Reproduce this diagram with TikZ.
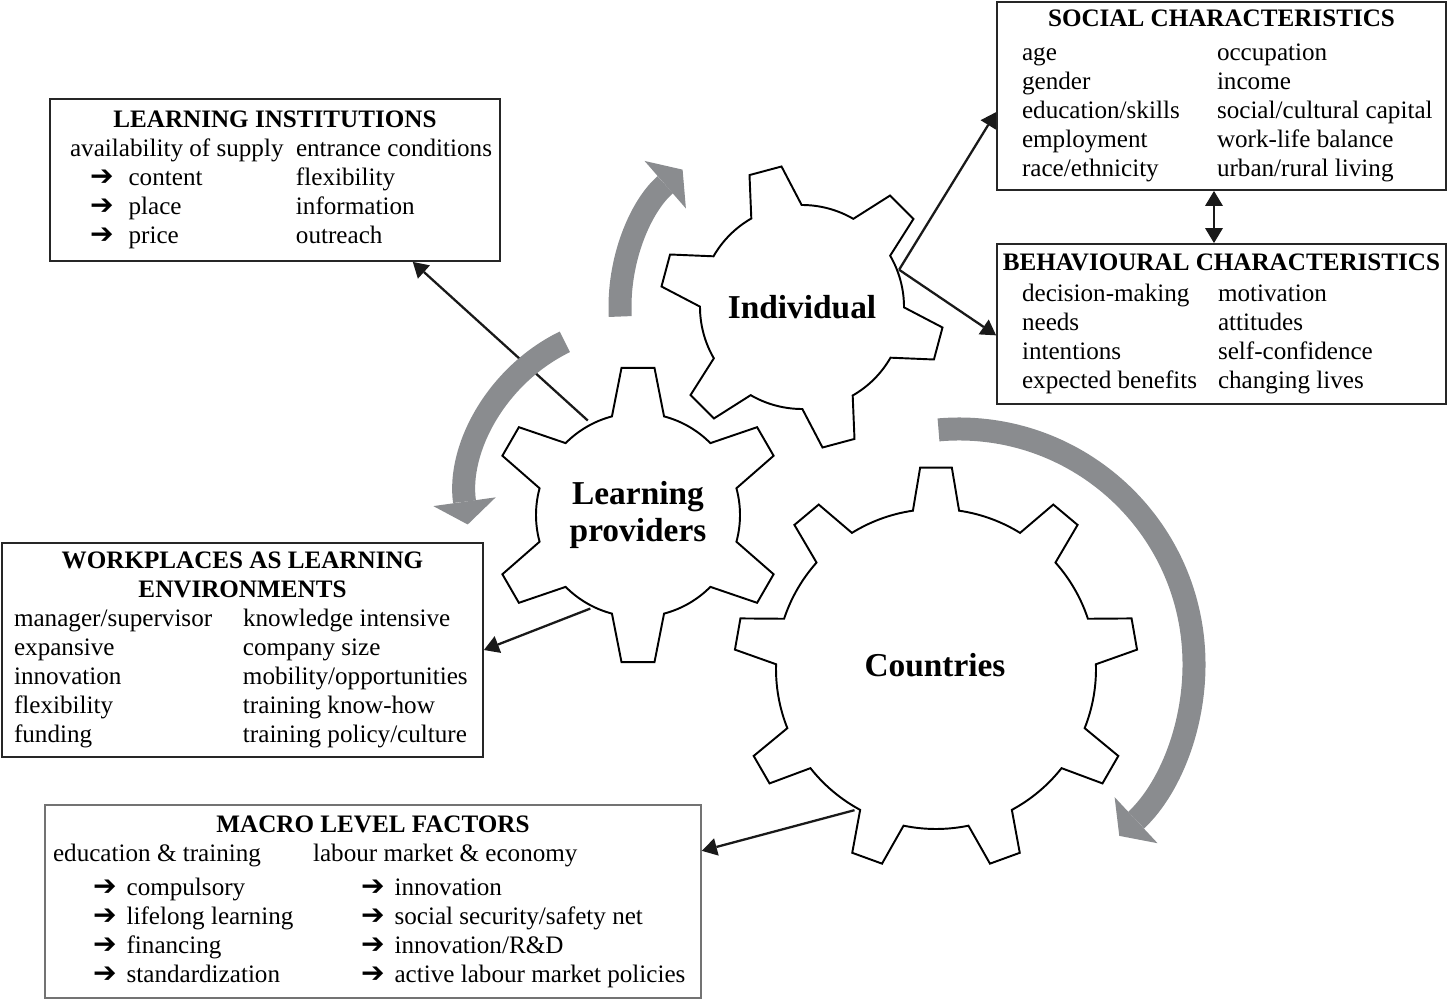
\documentclass[tikz,border=0pt]{standalone}
\usepackage{fontspec}
\setmainfont{Liberation Serif}
\newfontfamily\arrowfont{DejaVu Sans}
\usepackage{tikz}
\usetikzlibrary{arrows.meta, positioning, calc}
\usepackage{xcolor}
\definecolor{turnGray}{RGB}{138,140,143}
\newcommand{\arr}{{\arrowfont\bfseries\fontsize{16}{16}\selectfont\symbol{"2794}}}
\tikzset{
    >={Triangle[length=0.3cm, width=0.36cm, line width=0pt]},
    % Text
    txt/.style={font=\fontsize{14.3}{16.5}\selectfont},
    gearlbl/.style={font=\fontsize{19}{21.5}\selectfont\bfseries, align=center},
    % Shapes
    infobox/.style={rectangle, draw=black!85, line width=1.1pt, fill=white,
                    inner sep=0pt, align=center, txt},
    macrobox/.style={infobox, draw=black!55},
    gearline/.style={draw=black, line width=1.1pt, fill=white},
    % Flow
    link/.style={->, line width=1.3pt, black!90},
    rotArrow/.style={draw=turnGray, line width=0.46cm,
                     -{Triangle[length=0.46cm, width=1.26cm, line width=0pt]}},
    % teeth, body radius, tip radius, first angle, half base, half tip
    pics/gear/.style n args={6}{code={
        \draw[gearline] ({#4-#5}:#2)
          \foreach \k in {1,...,#1} {
            -- ({#4+(\k-1)*360/#1-#6}:#3)
            -- ({#4+(\k-1)*360/#1+#6}:#3)
            -- ({#4+(\k-1)*360/#1+#5}:#2)
            arc[start angle={#4+(\k-1)*360/#1+#5}, end angle={#4+\k*360/#1-#5}, radius=#2]
          } -- cycle;
    }}
}

\begin{document}
\begin{tikzpicture}[x=0.02cm, y=0.02cm]
\useasboundingbox (0,0) rectangle (1448,-1000);

% gears
\coordinate (indivC) at (802,-307);
\coordinate (lprovC) at (638,-515);
\coordinate (cntrC) at (936,-669);
\pic at (cntrC) {gear={9}{160}{202}{90}{8.3}{4.5}};
\pic at (lprovC) {gear={6}{102}{148}{90}{14.8}{6.4}};
\pic at (indivC) {gear={6}{102}{142}{-15}{14.8}{6.7}};
\node[gearlbl] (indiv) at (indivC) {Individual};
\node[gearlbl] (lprov) at (lprovC) {Learning\\providers};
\node[gearlbl] (cntr) at (935,-665) {Countries};

% boxes
\node[infobox, minimum width=9cm, minimum height=3.24cm] (linst) at (275,-180) {%
\begin{tabular}{@{\hspace{0.4cm}}p{4.52cm}@{}p{4.08cm}@{}}
\multicolumn{2}{@{}c@{}}{\textbf{LEARNING INSTITUTIONS}}\\
availability of supply & entrance conditions\\
\hspace*{0.4cm}\arr\hspace{0.3cm}content & flexibility\\
\hspace*{0.4cm}\arr\hspace{0.3cm}place & information\\
\hspace*{0.4cm}\arr\hspace{0.3cm}price & outreach
\end{tabular}};

\node[infobox, minimum width=8.98cm, minimum height=3.76cm] (social) at (1221.5,-96) {%
\begin{tabular}{@{\hspace{0.5cm}}p{3.9cm}@{}p{4.58cm}@{}}
\multicolumn{2}{@{}c@{}}{\textbf{SOCIAL CHARACTERISTICS}}\\[3pt]
age & occupation\\
gender & income\\
education/skills & social/cultural capital\\
employment & work-life balance\\
race/ethnicity & urban/rural living
\end{tabular}};

\node[infobox, minimum width=8.98cm, minimum height=3.2cm] (behav) at (1221.5,-324) {%
\begin{tabular}{@{\hspace{0.5cm}}p{3.92cm}@{}p{4.56cm}@{}}
\multicolumn{2}{@{}c@{}}{\textbf{BEHAVIOURAL CHARACTERISTICS}}\\[1pt]
decision-making & motivation\\
needs & attitudes\\
intentions & self-confidence\\
expected benefits & changing lives
\end{tabular}};

\node[infobox, minimum width=9.62cm, minimum height=4.28cm] (work) at (242.5,-650) {%
\begin{tabular}{@{\hspace{0.24cm}}p{4.58cm}@{}p{4.8cm}@{}}
\multicolumn{2}{@{}c@{}}{\textbf{WORKPLACES AS LEARNING}}\\
\multicolumn{2}{@{}c@{}}{\textbf{ENVIRONMENTS}}\\
manager/supervisor & knowledge intensive\\
expansive & company size\\
innovation & mobility/opportunities\\
flexibility & training know-how\\
funding & training policy/culture
\end{tabular}};

\node[macrobox, minimum width=13.12cm, minimum height=3.86cm] (macro) at (373,-901.5) {%
\begin{tabular}{@{\hspace{0.16cm}}p{5.2cm}@{}p{7.76cm}@{}}
\multicolumn{2}{@{}c@{}}{\textbf{MACRO LEVEL FACTORS}}\\
education \& training & labour market \& economy\\[3pt]
\hspace*{0.8cm}\arr\hspace{0.2cm}compulsory & \hspace*{0.96cm}\arr\hspace{0.2cm}innovation\\
\hspace*{0.8cm}\arr\hspace{0.2cm}lifelong learning & \hspace*{0.96cm}\arr\hspace{0.2cm}social security/safety net\\
\hspace*{0.8cm}\arr\hspace{0.2cm}financing & \hspace*{0.96cm}\arr\hspace{0.2cm}innovation/R\&D\\
\hspace*{0.8cm}\arr\hspace{0.2cm}standardization & \hspace*{0.96cm}\arr\hspace{0.2cm}active labour market policies
\end{tabular}};

% connectors
\draw[link] ($(lprovC)+(118:107)$) -- ($(linst.south west)!0.805!(linst.south east)$);
\draw[link] ($(indivC)+(21:104)$) -- ($(social.north west)!0.585!(social.south west)$);
\draw[link] ($(indivC)+(21:104)$) -- ($(behav.north west)!0.57!(behav.south west)$);
\draw[link, <->] ([xshift=-0.15cm]social.south) -- ([xshift=-0.15cm]behav.north);
\draw[link] ($(lprovC)+(-117:105)$) -- (work.east);
\draw[link] ($(cntrC)+(-120:163)$) -- ($(macro.north east)!0.24!(macro.south east)$);

% turning arrows
\draw[rotArrow] ($(indivC)+(183:182)$) arc[start angle=183, end angle=131, radius=182];
\draw[rotArrow] ($(lprovC)+(4,15)+(116:176)$) arc[start angle=116, end angle=188, radius=176];
\draw[rotArrow] ($(cntrC)+(23,5)+(95:235)$) arc[start angle=95, end angle=-47, radius=235];

\end{tikzpicture}
\end{document}
